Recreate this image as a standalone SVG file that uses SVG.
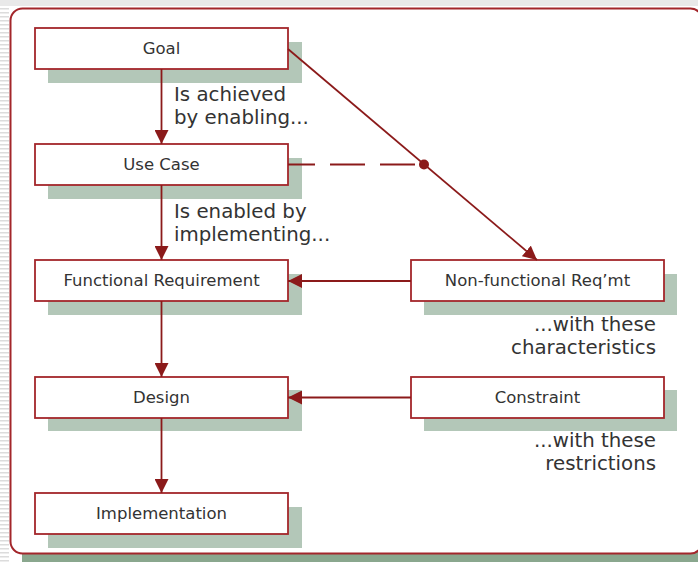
<svg xmlns="http://www.w3.org/2000/svg" width="698" height="562" viewBox="0 0 698 562">
<style>
.box{fill:#ffffff;stroke:#a3262b;stroke-width:1.8}
.shadow{fill:#b3c7b8}
.lbl{font-family:"DejaVu Sans","Liberation Sans",sans-serif;font-size:16.5px;fill:#333333;text-anchor:middle}
.note{font-family:"DejaVu Sans","Liberation Sans",sans-serif;font-size:19.8px;fill:#333333}
.conn{stroke:#8b1a1a;stroke-width:1.8;fill:none}
</style>
<defs>
<pattern id="stripes" width="8" height="4" patternUnits="userSpaceOnUse">
<rect width="8" height="4" fill="#ffffff"/>
<rect width="8" height="1.5" fill="#dcdcdc"/>
</pattern>
<marker id="arr" markerUnits="userSpaceOnUse" viewBox="0 0 14 14" refX="14" refY="7" markerWidth="14" markerHeight="14" orient="auto">
<path d="M0,0 L14,7 L0,14 z" fill="#8b1a1a"/>
</marker>
</defs>
<rect width="698" height="562" fill="#ffffff"/>
<rect x="0" y="0" width="698" height="6" fill="#e9e9e9"/>
<rect x="0" y="6" width="9" height="556" fill="url(#stripes)"/>
<g id="frame">
<rect x="22" y="548" width="690" height="14" fill="#8aa78e"/>
<rect x="10.5" y="8.5" width="692" height="545" rx="12" ry="12" fill="#ffffff" stroke="#a3262b" stroke-width="2"/>
</g>
<g id="goal">
<rect class="shadow" x="48" y="42" width="254" height="41"/>
<rect class="box" x="35" y="28" width="253" height="41"/>
<text class="lbl" x="161.5" y="54">Goal</text>
</g>
<g id="usecase">
<rect class="shadow" x="48" y="158" width="254" height="41"/>
<rect class="box" x="35" y="144" width="253" height="41"/>
<text class="lbl" x="161.5" y="170">Use Case</text>
</g>
<g id="functional">
<rect class="shadow" x="48" y="274" width="254" height="41"/>
<rect class="box" x="35" y="260" width="253" height="41"/>
<text class="lbl" x="161.5" y="286">Functional Requirement</text>
</g>
<g id="design">
<rect class="shadow" x="48" y="390" width="254" height="41"/>
<rect class="box" x="35" y="377" width="253" height="41"/>
<text class="lbl" x="161.5" y="403">Design</text>
</g>
<g id="implementation">
<rect class="shadow" x="48" y="507" width="254" height="41"/>
<rect class="box" x="35" y="493" width="253" height="41"/>
<text class="lbl" x="161.5" y="519">Implementation</text>
</g>
<g id="nonfunctional">
<rect class="shadow" x="424" y="274" width="253" height="41"/>
<rect class="box" x="411" y="260" width="253" height="41"/>
<text class="lbl" x="537.5" y="286">Non-functional Req’mt</text>
</g>
<g id="constraint">
<rect class="shadow" x="424" y="390" width="253" height="41"/>
<rect class="box" x="411" y="377" width="253" height="41"/>
<text class="lbl" x="537.5" y="403">Constraint</text>
</g>
<g id="connectors">
<line class="conn" x1="161.5" y1="69" x2="161.5" y2="144" marker-end="url(#arr)"/>
<line class="conn" x1="161.5" y1="185" x2="161.5" y2="260" marker-end="url(#arr)"/>
<line class="conn" x1="161.5" y1="301" x2="161.5" y2="377" marker-end="url(#arr)"/>
<line class="conn" x1="161.5" y1="418" x2="161.5" y2="493" marker-end="url(#arr)"/>
<line class="conn" x1="411" y1="281" x2="288" y2="281" marker-end="url(#arr)"/>
<line class="conn" x1="411" y1="397.5" x2="288" y2="397.5" marker-end="url(#arr)"/>
<line class="conn" x1="288" y1="49" x2="537" y2="260" marker-end="url(#arr)"/>
<line class="conn" x1="288" y1="164.5" x2="424" y2="164.5" stroke-dasharray="35 15" stroke-dashoffset="8"/>
<circle cx="424" cy="164.5" r="5" fill="#8b1a1a"/>
</g>
<g id="notes">
<text class="note" x="174" y="100.5">Is achieved</text>
<text class="note" x="174" y="124">by enabling...</text>
<text class="note" x="174" y="217.5">Is enabled by</text>
<text class="note" x="174" y="241">implementing...</text>
<text class="note" x="656" y="331" text-anchor="end">...with these</text>
<text class="note" x="656" y="354" text-anchor="end">characteristics</text>
<text class="note" x="656" y="447" text-anchor="end">...with these</text>
<text class="note" x="656" y="470" text-anchor="end">restrictions</text>
</g>
</svg>
